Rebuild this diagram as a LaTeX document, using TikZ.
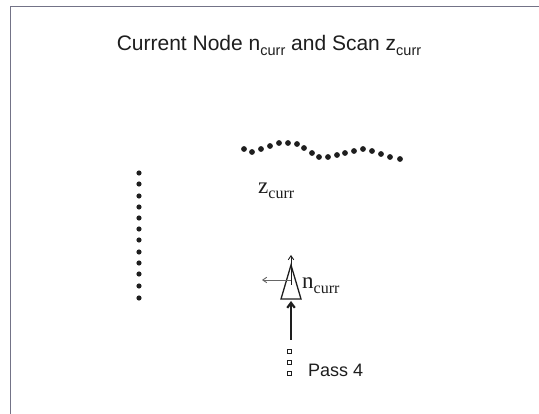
\documentclass[tikz,border=0pt]{standalone}
\usepackage{fontspec}
\setmainfont{Liberation Serif}
\newfontfamily\arialf{Liberation Sans}
\usetikzlibrary{arrows.meta}
\newcommand\lowsub[2]{\raisebox{-#1}{#2}}
\definecolor{framegray}{RGB}{115,115,135}
\definecolor{ink}{RGB}{30,30,30}
\tikzset{
  frameline/.style={draw=framegray, line width=1pt},
  scandot/.style={fill=ink},
  thinarrow/.style={line width=0.9pt, -{Straight Barb[length=4pt,width=5.5pt]}},
  thickarrow/.style={line width=2.2pt, -{Straight Barb[length=5pt,width=7.5pt]}},
  trailbox/.style={draw=ink, line width=0.8pt, fill=white, minimum size=4pt, inner sep=0pt},
  txt/.style={inner sep=0pt, text=ink}
}
\begin{document}
\begin{tikzpicture}[x=1pt,y=-1pt]
\useasboundingbox (0,0) rectangle (539,414);
\fill[white] (0,0) rectangle (539,414);
\draw[frameline] (10,414) -- (10,7) -- (539,7);

% title
\node[txt, anchor=base] (title) at (269,51)
  {\arialf\fontsize{21}{24}\selectfont Current Node n\lowsub{4.5pt}{\fontsize{14.5}{15}\selectfont curr} and Scan z\lowsub{4.5pt}{\fontsize{14.5}{15}\selectfont curr}};

% wavy scan
\foreach \x/\y in {244/149,252/152,261/149,270/146,279/143,288/143,297/144,304/148,312/153,319/157,328/157,337/155,345/153,354/151,363/149,372/151,381/154,390/157,400/159}
  \fill[scandot] (\x,\y) circle (2.9);

% vertical wall
\foreach \y in {173,184,196,207,218,229,240,252,263,274,286,298}
  \fill[scandot] (139,\y) circle (2.6);

\node[txt, anchor=base west] (zlabel) at (258,194)
  {\fontsize{23}{26}\selectfont z\lowsub{4.5pt}{\fontsize{16}{16}\selectfont curr}};

% robot node
\coordinate (apex) at (291,265);
\coordinate (bl) at (281,299);
\coordinate (br) at (301,299);
\coordinate (upstart) at (291,285);
\coordinate (uptip) at (291,255);
\coordinate (hstart) at (291,280);
\coordinate (htip) at (262,280);
\coordinate (tstart) at (291,340);
\coordinate (ttip) at (291,301);

\draw[line width=1.3pt, draw=ink] (bl) -- (apex) -- (br) -- cycle;
\draw[thinarrow, draw=ink] (upstart) -- (uptip);
\draw[thinarrow, draw=black!60] (hstart) -- (htip);
\draw[thickarrow, draw=ink] (tstart) -- (ttip);

\node[trailbox] (s1) at (289,351) {};
\node[trailbox] (s2) at (289,362) {};
\node[trailbox] (s3) at (289,373) {};

\node[txt, anchor=base west] (nlabel) at (302,289)
  {\fontsize{23}{26}\selectfont n\lowsub{4.5pt}{\fontsize{16}{16}\selectfont curr}};

\node[txt, anchor=west] (pass) at (308,370)
  {\arialf\fontsize{18}{21}\selectfont Pass 4};
\end{tikzpicture}
\end{document}
